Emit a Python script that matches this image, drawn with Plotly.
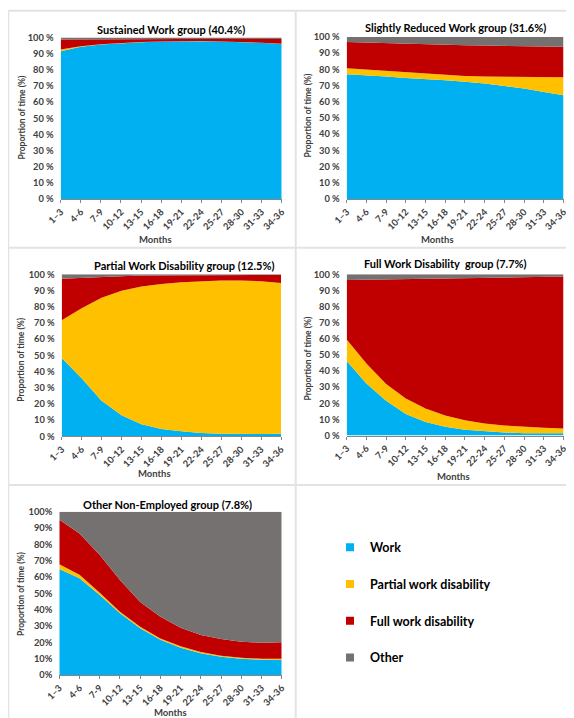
import plotly.graph_objects as go

months = ["1–3", "4-6", "7-9", "10-12", "13-15", "16-18", "19-21", "22-24",
          "25-27", "28-30", "31-33", "34-36"]
series_names = ["Work", "Partial work disability", "Full work disability", "Other"]
colors = ["#00B0F0", "#FFC000", "#C00000", "#767171"]

panel_titles = ["Sustained Work group (40.4%)",
                "Slightly Reduced Work group (31.6%)",
                "Partial Work Disability group (12.5%)",
                "Full Work Disability  group (7.7%)",
                "Other Non-Employed group (7.8%)"]

# Panel 1: Sustained Work group
sw_work    = [91.5, 94.2, 95.6, 96.5, 97.1, 97.5, 97.7, 97.7, 97.5, 97.2, 96.7, 96.0]
sw_partial = [1.0, 0.4, 0.2, 0.1, 0.1, 0.1, 0.1, 0.1, 0.1, 0.1, 0.1, 0.1]
sw_full    = [6.3, 4.3, 3.0, 2.2, 1.7, 1.3, 1.2, 1.2, 1.4, 1.7, 2.2, 3.0]
sw_other   = [1.2, 1.1, 1.2, 1.2, 1.1, 1.1, 1.0, 1.0, 1.0, 1.0, 1.0, 0.9]

# Panel 2: Slightly Reduced Work group
sr_work    = [77.0, 76.4, 75.6, 74.7, 74.1, 73.3, 72.3, 71.3, 69.8, 68.2, 66.1, 64.1]
sr_partial = [3.7, 3.5, 3.5, 3.5, 3.3, 3.3, 3.7, 4.3, 5.6, 7.0, 8.9, 11.1]
sr_full    = [16.2, 16.6, 17.2, 17.7, 18.1, 18.7, 18.9, 19.1, 19.1, 19.1, 19.0, 18.8]
sr_other   = [3.1, 3.5, 3.7, 4.1, 4.5, 4.7, 5.1, 5.3, 5.5, 5.7, 6.0, 6.0]

# Panel 3: Partial Work Disability group
pd_work    = [48.4, 35.8, 22.0, 13.0, 7.4, 4.5, 3.1, 2.1, 1.6, 1.4, 1.4, 1.6]
pd_partial = [23.2, 43.2, 63.6, 76.9, 85.0, 89.5, 92.0, 93.6, 94.5, 94.7, 94.3, 93.1]
pd_full    = [25.7, 18.9, 12.8, 8.9, 6.8, 5.3, 4.2, 3.6, 3.3, 3.3, 3.7, 4.9]
pd_other   = [2.7, 2.1, 1.6, 1.2, 0.8, 0.7, 0.7, 0.7, 0.6, 0.6, 0.6, 0.4]

# Panel 4: Full Work Disability group
fd_work    = [46.2, 32.3, 21.5, 13.3, 8.3, 5.4, 3.5, 2.5, 1.9, 1.4, 1.4, 1.4]
fd_partial = [13.4, 12.4, 10.4, 9.7, 8.5, 7.0, 6.0, 5.0, 4.3, 4.0, 3.4, 2.9]
fd_full    = [36.9, 52.0, 65.0, 74.1, 80.5, 85.1, 88.2, 90.4, 91.9, 92.9, 93.6, 94.3]
fd_other   = [3.5, 3.3, 3.1, 2.9, 2.7, 2.5, 2.3, 2.1, 1.9, 1.7, 1.6, 1.4]

# Panel 5: Other Non-Employed group
on_work    = [64.9, 59.2, 49.0, 37.8, 28.6, 21.6, 16.7, 13.3, 11.2, 10.0, 9.4, 9.2]
on_partial = [2.9, 2.2, 1.4, 1.0, 1.0, 0.8, 0.9, 0.8, 0.6, 0.6, 0.6, 0.8]
on_full    = [27.3, 25.3, 23.1, 19.4, 15.1, 13.3, 11.4, 10.4, 10.2, 9.8, 9.8, 10.0]
on_other   = [4.9, 13.3, 26.5, 41.8, 55.3, 64.3, 71.0, 75.5, 78.0, 79.6, 80.2, 80.0]

panels = [
    [sw_work, sw_partial, sw_full, sw_other],
    [sr_work, sr_partial, sr_full, sr_other],
    [pd_work, pd_partial, pd_full, pd_other],
    [fd_work, fd_partial, fd_full, fd_other],
    [on_work, on_partial, on_full, on_other],
]
ytick_vals = [0, 10, 20, 30, 40, 50, 60, 70, 80, 90, 100]
ytick_text_spaced = ["0 %", "10 %", "20 %", "30 %", "40 %", "50 %", "60 %",
                     "70 %", "80 %", "90 %", "100 %"]
ytick_text_plain = ["0%", "10%", "20%", "30%", "40%", "50%", "60%",
                    "70%", "80%", "90%", "100%"]

W, H = 574, 718
OFF = 8  # page body margin compensation
FONT = "Lato, Liberation Sans, sans-serif"

def px(x):
    return (x - OFF) / W

def py(y):
    return 1 - (y - OFF) / H

# plot areas in pixels: (x0, x1, ytop, ybottom)
areas = [
    (60.7, 281.7, 37.5, 199.0),
    (346.7, 563.5, 37.0, 199.0),
    (61.7, 281.0, 274.3, 436.3),
    (346.7, 563.5, 274.3, 435.5),
    (59.3, 281.7, 511.7, 675.0),
]
title_pos = [(171, 29), (455, 27), (184, 265.5), (446, 263.5), (167, 504)]
xtitle_pos = [(155, 239), (437.5, 239), (154, 473.5), (454, 476.5), (170, 712)]
ytitle_pos = [(21.5, 118), (307.5, 116), (20.7, 360), (307.5, 359), (21, 594)]

fig = go.Figure()
layout = dict(
    width=W, height=H, margin=dict(l=0, r=0, t=0, b=0, autoexpand=False),
    paper_bgcolor="white", plot_bgcolor="white",
    font=dict(family=FONT, color="#000000"),
    showlegend=True,
    legend=dict(x=px(330), y=py(532.5), xanchor="left", yanchor="top",
                traceorder="grouped", tracegroupgap=17.5,
                font=dict(family=FONT, size=12.5, weight="bold", color="#000000"),
                itemwidth=30, bgcolor="rgba(0,0,0,0)"),
)
annotations = []
shapes = []

for i, (vals, area) in enumerate(zip(panels, areas)):
    n = i + 1
    xa = "x" if n == 1 else f"x{n}"
    ya = "y" if n == 1 else f"y{n}"
    for s, (name, col, v) in enumerate(zip(series_names, colors, vals)):
        fig.add_trace(go.Scatter(
            x=months, y=v, name=name, mode="lines",
            line=dict(width=0, color=col, shape="linear"),
            fillcolor=col, stackgroup=f"g{n}",
            xaxis=xa, yaxis=ya, showlegend=False, hoverinfo="skip",
        ))
    x0, x1, yt, yb = area
    layout[f"xaxis{'' if n == 1 else n}"] = dict(
        domain=[px(x0), px(x1)], anchor=ya, type="category",
        range=[0, len(months) - 1], tickangle=-45, automargin=False,
        showline=True, linecolor="#868686", linewidth=1,
        ticks="outside", ticklen=3, tickcolor="#868686",
        tickfont=dict(family=FONT, size=9.3, weight="bold", color="#404040"),
        showgrid=False, zeroline=False, fixedrange=True,
    )
    layout[f"yaxis{'' if n == 1 else n}"] = dict(
        domain=[py(yb), py(yt)], anchor=xa, range=[0, 100], automargin=False,
        tickvals=ytick_vals,
        ticktext=ytick_text_plain if n == 5 else ytick_text_spaced,
        tickfont=dict(family=FONT, size=9.3, weight="bold", color="#404040"),
        showline=False, ticks="", showgrid=False, zeroline=False,
        ticklabelstandoff=6, fixedrange=True,
    )
    tx, ty = title_pos[i]
    annotations.append(dict(text=panel_titles[i], x=px(tx), y=py(ty),
                            xref="paper", yref="paper", showarrow=False,
                            xanchor="center", yanchor="middle",
                            font=dict(family=FONT, size=11, weight="bold", color="#000000")))
    mx, my = xtitle_pos[i]
    annotations.append(dict(text="Months", x=px(mx), y=py(my),
                            xref="paper", yref="paper", showarrow=False,
                            xanchor="center", yanchor="middle",
                            font=dict(family=FONT, size=9.5, weight="bold", color="#404040")))
    ax_, ay_ = ytitle_pos[i]
    annotations.append(dict(text="Proportion of time (%)", x=px(ax_), y=py(ay_),
                            xref="paper", yref="paper", showarrow=False,
                            xanchor="center", yanchor="middle", textangle=-90,
                            font=dict(family=FONT, size=8.5, weight="bold", color="#404040")))

# legend-only entries
for s, (name, col) in enumerate(zip(series_names, colors)):
    fig.add_trace(go.Scatter(
        x=[None], y=[None], mode="markers", name=name,
        marker=dict(symbol="square", size=8, color=col),
        legendgroup=f"L{s}", showlegend=True, xaxis="x", yaxis="y",
        hoverinfo="skip",
    ))

# panel separator lines
line_style = dict(color="#E3E3E3", width=2)
for y in [10.7, 247.7, 485]:
    shapes.append(dict(type="line", xref="paper", yref="paper",
                       x0=px(8), x1=px(571), y0=py(y), y1=py(y), line=line_style))
for x in [8.3, 295.7]:
    shapes.append(dict(type="line", xref="paper", yref="paper",
                       x0=px(x), x1=px(x), y0=py(10.7), y1=py(726), line=line_style))

layout["annotations"] = annotations
layout["shapes"] = shapes
fig.update_layout(**layout)
fig.write_html("out.html")
